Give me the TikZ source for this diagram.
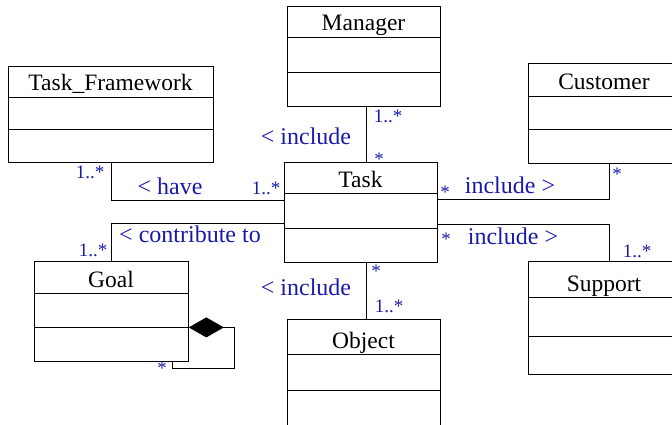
\documentclass[tikz,border=0pt]{standalone}
\usepackage{fontspec}
\setmainfont{Liberation Serif}
\usetikzlibrary{calc, arrows.meta, positioning}
\definecolor{umlBlue}{HTML}{1A1AAA}

\tikzset{
  classBox/.style = {draw, line width = 0.8pt, inner sep = 0pt, anchor = north west},
  className/.style = {font = \fontsize{23.5}{24}\selectfont, inner sep = 0pt, anchor = base},
  assocLabel/.style = {text = umlBlue, font = \fontsize{24}{24}\selectfont, inner sep = 0pt},
  multLabel/.style = {text = umlBlue, font = \fontsize{19}{19}\selectfont, inner sep = 0pt},
  assoc/.style = {line width = 0.8pt}
}

\begin{document}
\begin{tikzpicture}[x = 1pt, y = -1pt]
  \useasboundingbox (0, 0) rectangle (672, 425);
  \clip (0, 0) rectangle (672, 425);

  % \classBox{name}{title}{left}{top}{right}{line 1}{line 2}{bottom}
  \def\classBox#1#2#3#4#5#6#7#8{
    \node[classBox, minimum width = {(#5-#3)*1pt}, minimum height = {(#8-#4)*1pt}] (#1) at (#3, #4) {};
    \node[className] (#1Name) at ({(#3+#5)/2}, {#6-6}) {#2};
    \draw[assoc] (#3, #6) -- (#5, #6);
    \draw[assoc] (#3, #7) -- (#5, #7);
  }

  % ------------------------
  % classes
  % ------------------------

  \classBox{Manager}{Manager}{287}{6}{440}{37}{72}{106}
  \classBox{TaskFramework}{Task\_Framework}{8}{66}{213}{97}{129}{162}
  \classBox{Customer}{Customer}{528}{63}{680}{96}{129}{163}
  \classBox{Task}{Task}{284}{162}{437}{193}{228}{262}
  \classBox{Goal}{Goal}{34}{261}{188}{293}{327}{361}
  \classBox{Object}{Object}{287}{319}{440}{354}{390}{428}
  \classBox{Support}{Support}{528}{261}{680}{297}{336}{374}

  % ------------------------
  % associations
  % ------------------------

  \draw[assoc] ([xshift = 2.5pt]Manager.south) -- ([xshift = 2.5pt]Manager.south |- Task.north);
  \draw[assoc] ([xshift = 103pt]TaskFramework.south west) |- ([yshift = -38pt]Task.north west);
  \draw[assoc] ([yshift = -37pt]Task.north east) -| ([xshift = 81pt]Customer.south west);
  \draw[assoc] ([yshift = -62pt]Task.north east) -| ([xshift = 81pt]Support.north west);
  \draw[assoc] ([yshift = -61pt]Task.north west) -| ([xshift = 77pt]Goal.north west);
  \draw[assoc] ([xshift = 82pt]Task.south west) -- ([xshift = 82pt]Task.south west |- Object.north);

  % composition of goals
  \coordinate (goalLoop) at (234, 368);
  \draw[assoc, -{Diamond[length = 35pt, width = 20pt]}] ([xshift = -16pt]Goal.south east) |- (goalLoop) |- ([yshift = -16pt]Goal.east);

  % ------------------------
  % labels
  % ------------------------

  \node[assocLabel] (incManager) at (306, 136) {< include};
  \node[multLabel] (mManagerA) at (388, 116) {1..*};
  \node[multLabel] (mManagerB) at (379, 159) {*};

  \node[multLabel] (mFrameA) at (90, 172) {1..*};
  \node[assocLabel] (have) at (170, 186) {< have};
  \node[multLabel] (mFrameB) at (266, 188) {1..*};

  \node[multLabel] (mCustomerA) at (445, 192) {*};
  \node[assocLabel] (incCustomer) at (510, 185) {include >};
  \node[multLabel] (mCustomerB) at (617, 174) {*};

  \node[multLabel] (mSupportA) at (446, 239) {*};
  \node[assocLabel] (incSupport) at (513, 236) {include >};
  \node[multLabel] (mSupportB) at (637, 251) {1..*};

  \node[assocLabel] (contribute) at (190, 234) {< contribute to};
  \node[multLabel] (mGoal) at (93, 250) {1..*};

  \node[assocLabel] (incObject) at (306, 287) {< include};
  \node[multLabel] (mObjectA) at (376, 271) {*};
  \node[multLabel] (mObjectB) at (389, 306) {1..*};

  \node[multLabel] (mGoalLoop) at (162, 368) {*};
\end{tikzpicture}
\end{document}
